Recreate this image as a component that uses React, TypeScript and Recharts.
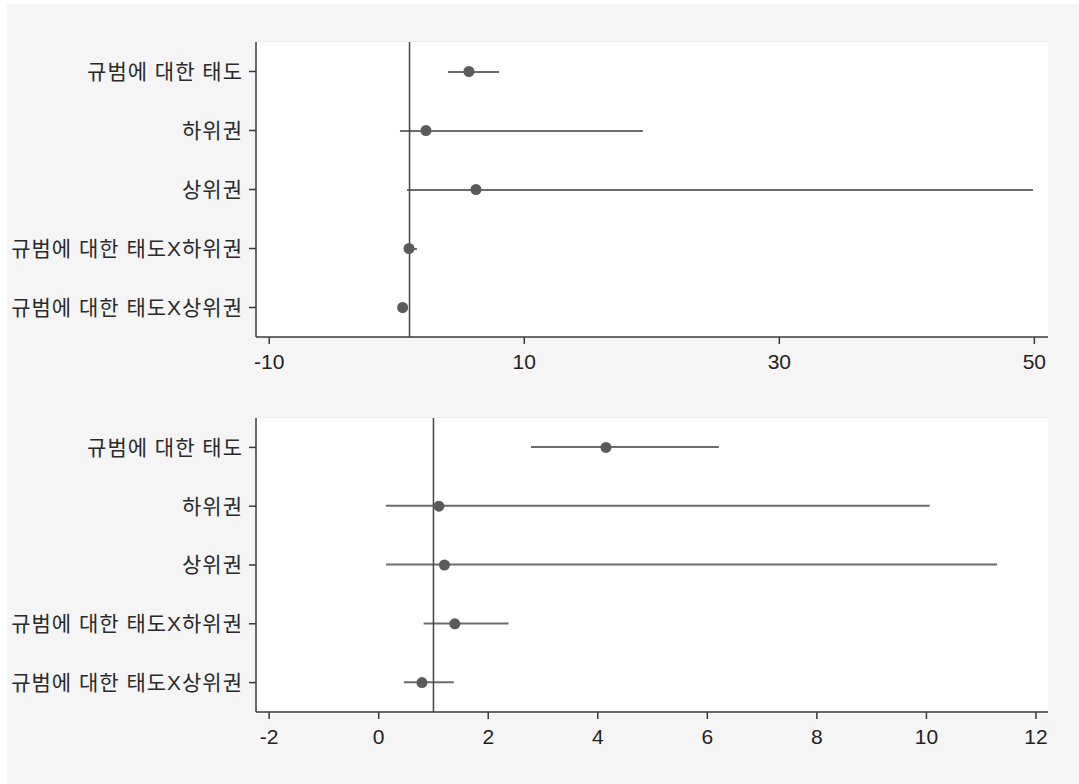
import { ComposedChart, Bar, Line, XAxis, YAxis, CartesianGrid, ReferenceLine } from 'recharts'

// odds ratios with 95% CI, one list per model
const categories = ['규범에 대한 태도', '하위권', '상위권', '규범에 대한 태도X하위권', '규범에 대한 태도X상위권']

const topEst = [5.66, 2.29, 6.21, 0.96, 0.46]
const topLo = [4.02, 0.25, 0.8, 0.62, 0.3]
const topHi = [8.02, 19.3, 49.9, 1.58, 0.7]
const topTicks = [-10, 10, 30, 50]

const bottomEst = [4.15, 1.1, 1.2, 1.39, 0.79]
const bottomLo = [2.78, 0.13, 0.135, 0.82, 0.46]
const bottomHi = [6.21, 10.06, 11.29, 2.37, 1.37]
const bottomTicks = [-2, 0, 2, 4, 6, 8, 10, 12]

const W = 1072
const H = 390
const AXIS = '#3a3a3a'
const INK = '#5a5a5a'
const FONT = '"Liberation Sans", Arial, "Noto Sans CJK KR", sans-serif'

function rows(est: number[], lo: number[], hi: number[]) {
  return categories.map((name, i) => ({ name, est: est[i], ci: [lo[i], hi[i]] }))
}

interface CoefPlotProps {
  est: number[]
  lo: number[]
  hi: number[]
  ticks: number[]
  domain: [number, number]
  top: number
  bottom: number
}

function CoefPlot({ est, lo, hi, ticks, domain, top, bottom }: CoefPlotProps) {
  const data = rows(est, lo, hi)
  return (
    <ComposedChart
      width={W}
      height={H}
      data={data}
      layout="vertical"
      margin={{ top, right: 31, bottom, left: 0 }}
      barCategoryGap={0}
    >
      <rect x={249} y={top} width={W - 249 - 31} height={H - top - bottom - 40} fill="#ffffff" />
      <CartesianGrid vertical={false} stroke="#ededed" strokeWidth={2} />
      <XAxis
        type="number"
        domain={domain}
        ticks={ticks}
        allowDataOverflow
        height={40}
        tickSize={7}
        tickMargin={10}
        axisLine={{ stroke: AXIS, strokeWidth: 1.5 }}
        tickLine={{ stroke: AXIS, strokeWidth: 1.5 }}
        tick={{ fill: '#222', fontSize: 21, fontFamily: FONT }}
      />
      <YAxis
        type="category"
        dataKey="name"
        width={249}
        tickSize={7}
        tickMargin={6}
        axisLine={{ stroke: AXIS, strokeWidth: 1.5 }}
        tickLine={{ stroke: AXIS, strokeWidth: 1.5 }}
        tick={{ fill: '#2a2a2a', fontSize: 21, fontFamily: FONT, letterSpacing: 1 }}
        interval={0}
      />
      <ReferenceLine x={1} stroke="#444" strokeWidth={1.5} />
      <Bar dataKey="ci" barSize={2} fill="#6b6b6b" isAnimationActive={false} />
      <Line
        dataKey="est"
        stroke="none"
        dot={{ r: 5.5, fill: INK, stroke: 'none' }}
        activeDot={false}
        isAnimationActive={false}
      />
    </ComposedChart>
  )
}

export default function App() {
  return (
    <div style={{ position: 'absolute', left: 7, top: 4, width: W, height: 780, background: '#f5f5f5' }}>
      <CoefPlot est={topEst} lo={topLo} hi={topHi} ticks={topTicks} domain={[-11.04, 51.07]} top={38} bottom={17} />
      <CoefPlot
        est={bottomEst}
        lo={bottomLo}
        hi={bottomHi}
        ticks={bottomTicks}
        domain={[-2.24, 12.22]}
        top={24}
        bottom={32}
      />
    </div>
  )
}
